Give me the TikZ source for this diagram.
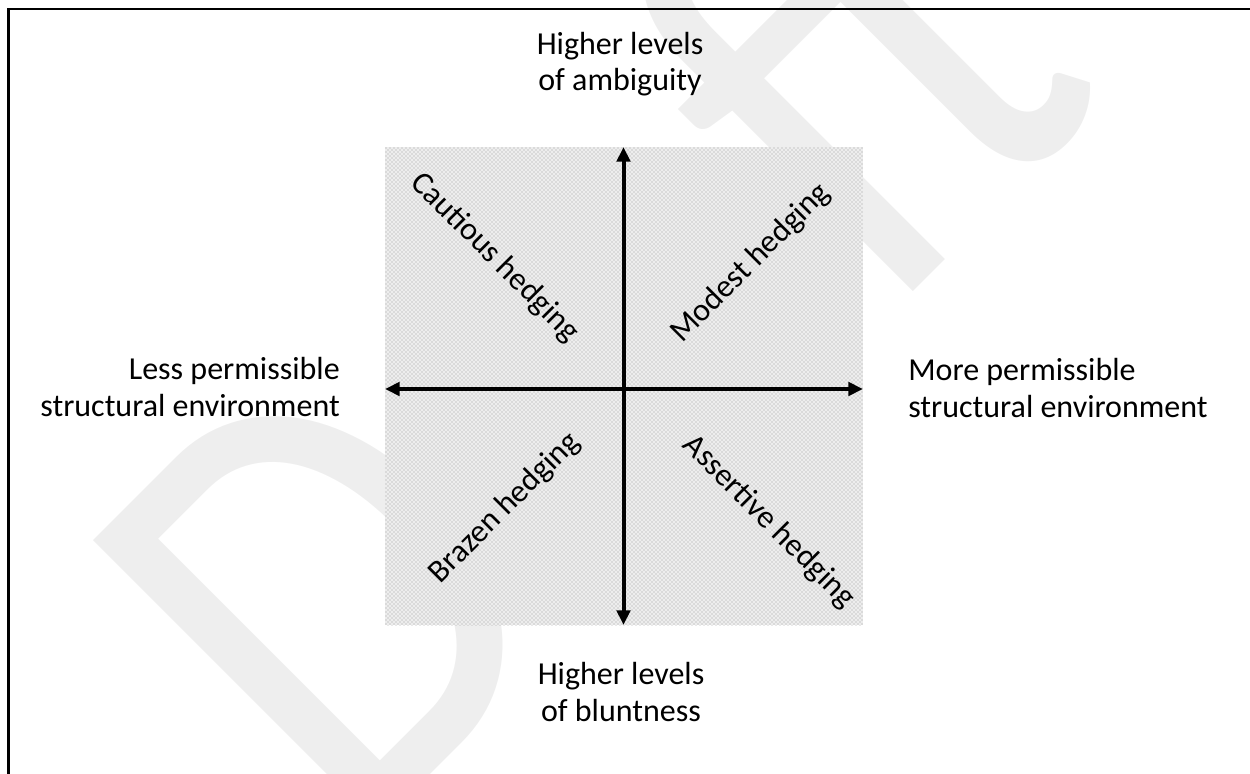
\documentclass[tikz,border=0pt]{standalone}
\usepackage{fontspec}
\setmainfont{Carlito}
\usetikzlibrary{arrows.meta,patterns}
\begin{document}
\begin{tikzpicture}[x=0.75pt,y=-0.75pt,
  lbl/.style={font=\fontsize{24pt}{27.75pt}\selectfont, inner sep=0pt},
  quad/.style={font=\fontsize{24pt}{28pt}\selectfont, inner sep=0pt, anchor=center},
  axis/.style={line width=3pt, {Triangle[length=11pt,width=10pt]}-{Triangle[length=11pt,width=10pt]}},
  frameline/.style={line width=1.6pt, black},
  watermark/.style={inner sep=0pt, anchor=base west, rotate=45, text=gray!13}
]
\useasboundingbox (0,0) rectangle (1250,774);
% watermark
\node[watermark] (wm) at (353,852) {\fontsize{472pt}{472pt}\selectfont\scalebox{0.84}[1]{Draft}};
% frame
\coordinate (fbl) at (8.5,774);
\coordinate (ftl) at (8.5,9);
\coordinate (ftr) at (1250,9);
\draw[frameline] (fbl) -- (ftl) -- (ftr);
% shaded square
\coordinate (sqtl) at (385,147);
\coordinate (sqbr) at (863,625);
\fill[gray!14] (sqtl) rectangle (sqbr);
\fill[pattern=crosshatch dots, pattern color=gray!75] (sqtl) rectangle (sqbr);
% axes
\coordinate (top) at (623.5,147);
\coordinate (bot) at (623.5,625);
\coordinate (lft) at (385,389);
\coordinate (rgt) at (863,389);
\draw[axis] (top) -- (bot);
\draw[axis] (lft) -- (rgt);
% axis labels (base = baseline of the last line)
\node[lbl, align=center, anchor=base] (amb) at (620,91) {Higher levels\\of ambiguity};
\node[lbl, align=center, anchor=base] (blu) at (621,721) {Higher levels\\of bluntness};
\node[lbl, align=right, anchor=base east] (less) at (340,416) {Less permissible\\structural environment};
\node[lbl, align=left, anchor=base west] (more) at (908,417) {More permissible\\structural environment};
% quadrant labels
\node[quad, rotate=-45] (cau) at (495,258) {Cautious hedging};
\node[quad, rotate=45] (mod) at (751,263) {Modest hedging};
\node[quad, rotate=45] (bra) at (505,508) {Brazen hedging};
\node[quad, rotate=-45] (ass) at (769,522) {Assertive hedging};
\end{tikzpicture}
\end{document}
